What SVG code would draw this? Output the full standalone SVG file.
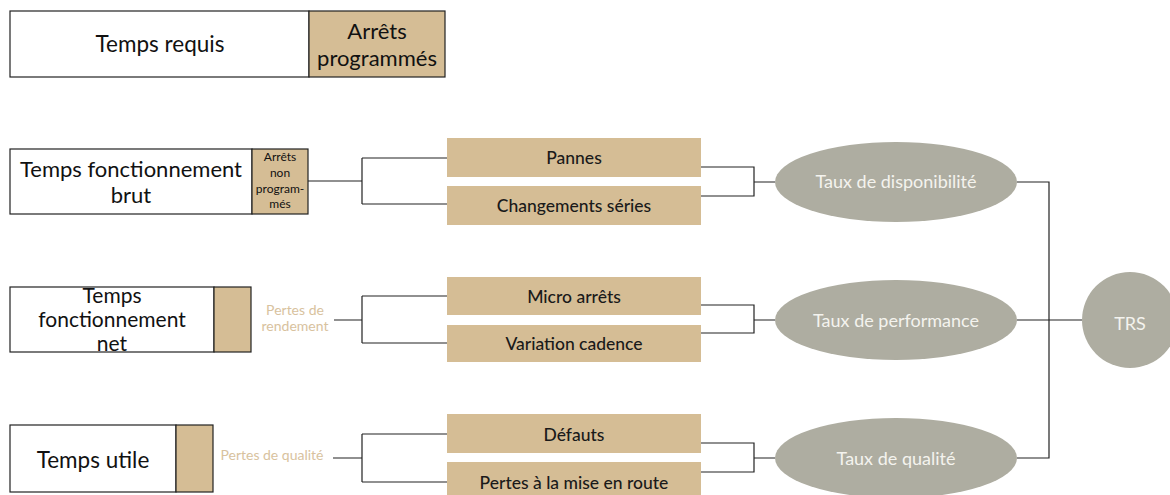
<svg xmlns="http://www.w3.org/2000/svg" width="1170" height="495" viewBox="0 0 1170 495">
<style>
.w{fill:#fff;stroke:#222;stroke-width:1.2}
.b{fill:#d5bd95;stroke:#222;stroke-width:1.2}
.box{fill:#d5bd95}
.el{fill:#aeada1}
.t{font-family:Lato,"Open Sans",sans-serif;fill:#111;text-anchor:middle}
.bt{font-family:Lato,"Open Sans",sans-serif;fill:#1a1a1a;text-anchor:middle;font-size:17.5px;font-weight:500}
.et{font-family:Lato,"Open Sans",sans-serif;fill:#f4f3ee;text-anchor:middle;font-size:18px}
.p{font-family:Lato,"Open Sans",sans-serif;fill:#d8c29e;text-anchor:middle;font-size:14px}
.c{fill:none;stroke:#222;stroke-width:1.2}
</style>
<g id="connectors">
<path class="c" d="M308,181 H362 M362,158 V204 M362,158 H447 M362,204 H447"/>
<path class="c" d="M334,320 H362 M362,296 V343 M362,296 H447 M362,343 H447"/>
<path class="c" d="M333,458 H362 M362,434 V482 M362,434 H447 M362,482 H447"/>
<path class="c" d="M701,167 H754 V196 H701 M754,182 H775"/>
<path class="c" d="M701,305 H754 V333 H701 M754,320 H775"/>
<path class="c" d="M701,443 H754 V472 H701 M754,458 H775"/>
<path class="c" d="M1017,182 H1049 V458 H1017 M1017,320 H1082"/>
</g>
<g id="temps-requis">
<rect class="w" x="10" y="11" width="299" height="66"/>
<text class="t" x="160" y="52" font-size="22.5">Temps requis</text>
</g>
<g id="arrets-programmes">
<rect class="b" x="309" y="11" width="136" height="66"/>
<text class="t" x="377" y="39" font-size="22">Arrêts</text>
<text class="t" x="377" y="66" font-size="22">programmés</text>
</g>
<g id="temps-brut">
<rect class="w" x="10" y="149" width="242" height="65"/>
<text class="t" x="131" y="177" font-size="22">Temps fonctionnement</text>
<text class="t" x="131" y="203" font-size="22">brut</text>
</g>
<g id="arrets-non-programmes">
<rect class="b" x="252" y="149" width="56" height="65"/>
<text class="t" x="280" y="161" font-size="12">Arrêts</text>
<text class="t" x="280" y="177" font-size="12">non</text>
<text class="t" x="280" y="193" font-size="12">program-</text>
<text class="t" x="280" y="208" font-size="12">més</text>
</g>
<g id="temps-net">
<rect class="w" x="10" y="287" width="204" height="65"/>
<text class="t" x="112" y="303" font-size="21">Temps</text>
<text class="t" x="112" y="327" font-size="21">fonctionnement</text>
<text class="t" x="112" y="351" font-size="21">net</text>
</g>
<g id="pertes-rendement-box">
<rect class="b" x="214" y="287" width="37" height="65"/>
</g>
<g id="pertes-rendement">
<text class="p" x="295" y="315">Pertes de</text>
<text class="p" x="295" y="331">rendement</text>
</g>
<g id="temps-utile">
<rect class="w" x="10" y="425" width="166" height="67"/>
<text class="t" x="93" y="468" font-size="22.5">Temps utile</text>
</g>
<g id="pertes-qualite-box">
<rect class="b" x="176" y="425" width="37" height="67"/>
</g>
<g id="pertes-qualite">
<text class="p" x="272" y="460" font-size="15">Pertes de qualité</text>
</g>
<g id="pannes">
<rect class="box" x="447" y="138" width="254" height="39"/>
<text class="bt" x="574" y="164">Pannes</text>
</g>
<g id="changements-series">
<rect class="box" x="447" y="186" width="254" height="39"/>
<text class="bt" x="574" y="212">Changements séries</text>
</g>
<g id="micro-arrets">
<rect class="box" x="447" y="277" width="254" height="38"/>
<text class="bt" x="574" y="303">Micro arrêts</text>
</g>
<g id="variation-cadence">
<rect class="box" x="447" y="325" width="254" height="37"/>
<text class="bt" x="574" y="350">Variation cadence</text>
</g>
<g id="defauts">
<rect class="box" x="447" y="414" width="254" height="39"/>
<text class="bt" x="574" y="441">Défauts</text>
</g>
<g id="pertes-mise-en-route">
<rect class="box" x="447" y="462" width="254" height="40"/>
<text class="bt" x="574" y="489">Pertes à la mise en route</text>
</g>
<g id="taux-disponibilite">
<ellipse class="el" cx="896" cy="182" rx="121" ry="40"/>
<text class="et" x="896" y="188">Taux de disponibilité</text>
</g>
<g id="taux-performance">
<ellipse class="el" cx="896" cy="320" rx="121" ry="40"/>
<text class="et" x="896" y="327">Taux de performance</text>
</g>
<g id="taux-qualite">
<ellipse class="el" cx="896" cy="458" rx="121" ry="40"/>
<text class="et" x="896" y="465">Taux de qualité</text>
</g>
<g id="trs">
<circle class="el" cx="1130" cy="320" r="48"/>
<text class="et" x="1130" y="330" font-size="27">TRS</text>
</g>
</svg>
